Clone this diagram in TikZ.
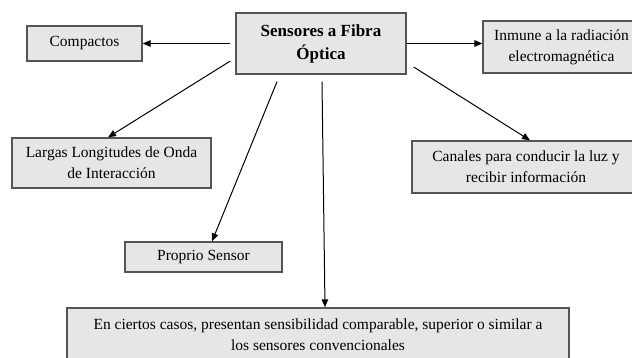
\documentclass[tikz,border=0pt]{standalone}
\usepackage{fontspec}
\setmainfont{Liberation Serif}
\usetikzlibrary{arrows.meta}
\definecolor{boxfill}{HTML}{E6E6E6}
\definecolor{boxline}{HTML}{555555}
\tikzset{
  box/.style={draw=boxline, fill=boxfill, line width=1.3pt, rectangle,
    align=center, inner sep=0pt, font=\fontsize{15.5}{21}\selectfont},
  mainbox/.style={box, font=\fontsize{17}{23}\selectfont\bfseries},
  arr/.style={draw=black, line width=1pt, -{Triangle[length=8pt,width=6.5pt]}},
}
\begin{document}
\begin{tikzpicture}[x=1pt,y=1pt]
  \useasboundingbox (0,0) rectangle (632,358);

  % central topic
  \node[mainbox, minimum width=170pt, minimum height=61pt] (c) at (321,314.5)
    {Sensores a Fibra\\Óptica};

  % properties
  \node[box, minimum width=115pt, minimum height=35pt] (comp) at (84.5,314.5) {Compactos};
  \node[box, minimum width=157pt, minimum height=52pt] (inm) at (561.5,311)
    {Inmune a la radiación\\electromagnética};
  \node[box, minimum width=199pt, minimum height=50pt] (larg) at (111.5,195)
    {Largas Longitudes de Onda\\de Interacción};
  \node[box, minimum width=228pt, minimum height=52pt] (can) at (526,191)
    {Canales para conducir la luz y\\recibir información};
  \node[box, minimum width=157pt, minimum height=30pt] (prop) at (203.5,101) {Proprio Sensor};
  \node[box, minimum width=502pt, minimum height=54pt] (bot) at (318,23)
    {En ciertos casos, presentan sensibilidad comparable, superior o similar a\\los sensores convencionales};

  % connectors
  \draw[arr, line width=1.3pt, shorten <=5pt] (c.west) -- (comp.east);
  \draw[arr, line width=1.3pt] (c.east) -- (c.east -| inm.west);
  \draw[arr] ([shift={(-5pt,-17.5pt)}]c.west) -- ([xshift=-3.5pt]larg.north);
  \draw[arr] ([shift={(-44pt,-7pt)}]c.south) -- ([xshift=8.5pt]prop.north);
  \draw[arr] ([shift={(1pt,-7pt)}]c.south) -- ([xshift=7pt]bot.north);
  \draw[arr] ([shift={(7pt,-23.5pt)}]c.east) -- ([xshift=4pt]can.north);
\end{tikzpicture}
\end{document}
